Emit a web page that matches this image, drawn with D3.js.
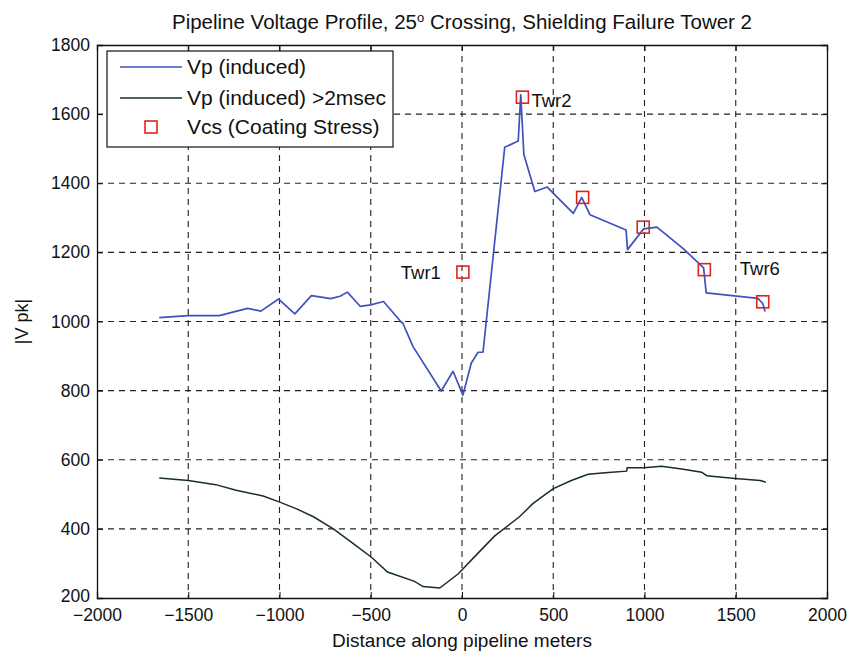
<!DOCTYPE html>
<html>
<head>
<meta charset="utf-8">
<script src="https://cdn.jsdelivr.net/npm/d3@7"></script>
<style>
  body { margin: 0; background: #fff; }
  text { font-family: "Liberation Sans", Arial, sans-serif; fill: #111; }
</style>
</head>
<body>
<svg id="chart" width="854" height="656"></svg>
<script>
// Peak induced pipeline voltage along the pipeline (distance in m, |V pk|)
const inducedX = [-1659, -1500, -1330, -1175, -1102, -1005, -916, -825, -719, -668, -628, -558, -500, -430,
                  -336, -324, -269, -114, -49, 5, 51, 88, 115, 234, 308, 322, 339, 399, 467, 610, 656, 701,
                  899, 907, 995, 1068, 1214, 1324, 1338, 1621, 1648, 1661];
const inducedV = [1011, 1017, 1017, 1038, 1030, 1065, 1022, 1075, 1066, 1073, 1085, 1044, 1048, 1058,
                  1000, 995, 928, 799, 856, 787, 880, 911, 911, 1504, 1522, 1656, 1483, 1376, 1389, 1313, 1359, 1309,
                  1265, 1208, 1268, 1273, 1210, 1155, 1083, 1067, 1052, 1029];

// Induced voltage lasting longer than 2 msec
const longX = [-1659, -1500, -1349, -1238, -1090, -1002, -906, -814, -703, -592, -496, -408, -260, -214, -122,
               -20, 68, 178, 315, 388, 498, 599, 691, 801, 902, 905, 998, 1094, 1204, 1313, 1341, 1497, 1634, 1665];
const longV = [547, 540, 528, 512, 495, 478, 458, 435, 399, 356, 318, 275, 248, 233, 229,
               270, 319, 379, 435, 473, 516, 540, 558, 563, 567, 577, 577, 581, 573, 564, 554, 546, 540, 535];

// Coating stress at each tower
const towerNames = ["Twr1", "Twr2", "Twr3", "Twr4", "Twr5", "Twr6"];
const towerX = [5, 331, 661, 993, 1328, 1648];
const coatingV = [1143, 1649, 1359, 1273, 1150, 1057];
const labeledTowers = ["Twr1", "Twr2", "Twr6"];

const xTicks = [-2000, -1500, -1000, -500, 0, 500, 1000, 1500, 2000];
const yTicks = [200, 400, 600, 800, 1000, 1200, 1400, 1600, 1800];

const seriesNames = ["Vp (induced)", "Vp (induced) >2msec", "Vcs (Coating Stress)"];

const BLUE = "#4050bd", DARK = "#17301c", RED = "#e0241c";

const svg = d3.select("#chart");
const margin = { left: 97, top: 45, right: 854 - 827, bottom: 656 - 598 };
const W = 854 - margin.left - margin.right;
const H = 656 - margin.top - margin.bottom;

const x = d3.scaleLinear().domain([-2000, 2000]).range([0, W]);
const y = d3.scaleLinear().domain([200, 1800]).range([H, 0]);

const g = svg.append("g").attr("transform", `translate(${margin.left},${margin.top})`);

// dashed grid
g.append("g").selectAll("line").data(xTicks.slice(1, -1)).join("line")
  .attr("x1", d => x(d)).attr("x2", d => x(d)).attr("y1", 0).attr("y2", H)
  .attr("stroke", "#222").attr("stroke-width", 1.1).attr("stroke-dasharray", "6,5");
g.append("g").selectAll("line").data(yTicks.slice(1, -1)).join("line")
  .attr("y1", d => y(d)).attr("y2", d => y(d)).attr("x1", 0).attr("x2", W)
  .attr("stroke", "#222").attr("stroke-width", 1.1).attr("stroke-dasharray", "6,5");

// axes with inward ticks on all four sides
const fs = "17.5px";
const xAxis = g.append("g").attr("transform", `translate(0,${H})`)
  .call(d3.axisBottom(x).tickValues(xTicks).tickSize(-6).tickPadding(10).tickFormat(d3.format("d")));
const xTop = g.append("g")
  .call(d3.axisTop(x).tickValues(xTicks).tickSize(-6).tickFormat(""));
const yAxis = g.append("g")
  .call(d3.axisLeft(y).tickValues(yTicks).tickSize(-6).tickPadding(7).tickFormat(d3.format("d")));
const yRight = g.append("g").attr("transform", `translate(${W},0)`)
  .call(d3.axisRight(y).tickValues(yTicks).tickSize(-6).tickFormat(""));
[xAxis, xTop, yAxis, yRight].forEach(a => {
  a.select(".domain").attr("stroke", "#111").attr("stroke-width", 1.3);
  a.selectAll(".tick line").attr("stroke", "#111");
  a.selectAll("text").style("font-size", fs).style("font-family", '"Liberation Sans", Arial, sans-serif').attr("fill", "#111");
});
xAxis.selectAll("text").attr("dy", "0.72em");
// the lowest y label sits just above the x labels
yAxis.selectAll(".tick text").filter(d => d === 200).attr("dy", "0.2em");

// series
const line = d3.line().x(d => x(d[0])).y(d => y(d[1]));
g.append("path").datum(d3.zip(longX, longV)).attr("d", line)
  .attr("fill", "none").attr("stroke", DARK).attr("stroke-width", 1.5);
g.append("path").datum(d3.zip(inducedX, inducedV)).attr("d", line)
  .attr("fill", "none").attr("stroke", BLUE).attr("stroke-width", 1.7).attr("stroke-linejoin", "round");

const towers = d3.zip(towerNames, towerX, coatingV);
const S = 12;
g.append("g").selectAll("rect").data(towers).join("rect")
  .attr("x", d => x(d[1]) - S / 2).attr("y", d => y(d[2]) - S / 2)
  .attr("width", S).attr("height", S)
  .attr("fill", "none").attr("stroke", RED).attr("stroke-width", 1.6);

// tower annotations
const labelOffset = { Twr1: [-22, 0, "end"], Twr2: [9, 3, "start"], Twr6: [-23, -33, "start"] };
g.append("g").selectAll("text").data(towers.filter(d => labeledTowers.includes(d[0]))).join("text")
  .attr("x", d => x(d[1]) + labelOffset[d[0]][0])
  .attr("y", d => y(d[2]) + labelOffset[d[0]][1])
  .attr("dy", "0.35em")
  .attr("text-anchor", d => labelOffset[d[0]][2])
  .style("font-size", "18.5px")
  .text(d => d[0]);

// legend
const lg = g.append("g").attr("transform", "translate(10,6)");
lg.append("rect").attr("width", 286).attr("height", 96)
  .attr("fill", "#fff").attr("stroke", "#111").attr("stroke-width", 1.2);
const rowY = [16, 47, 76];
lg.append("line").attr("x1", 13).attr("x2", 75).attr("y1", rowY[0]).attr("y2", rowY[0])
  .attr("stroke", BLUE).attr("stroke-width", 1.6);
lg.append("line").attr("x1", 13).attr("x2", 75).attr("y1", rowY[1]).attr("y2", rowY[1])
  .attr("stroke", DARK).attr("stroke-width", 1.4);
lg.append("rect").attr("x", 44 - S / 2).attr("y", rowY[2] - S / 2).attr("width", S).attr("height", S)
  .attr("fill", "none").attr("stroke", RED).attr("stroke-width", 1.6);
lg.selectAll("text.lab").data(seriesNames).join("text").attr("class", "lab")
  .attr("x", 80).attr("y", (d, i) => rowY[i]).attr("dy", "0.35em")
  .style("font-size", "21px").text(d => d);

// title and axis labels
const title = svg.append("text").attr("x", margin.left + W / 2).attr("y", 22).attr("dy", "0.35em")
  .attr("text-anchor", "middle").style("font-size", "20.5px");
title.append("tspan").text("Pipeline Voltage Profile, 25");
title.append("tspan").attr("baseline-shift", "super").style("font-size", "13px").text("o");
title.append("tspan").text(" Crossing, Shielding Failure Tower 2");

svg.append("text").attr("x", margin.left + W / 2).attr("y", 640).attr("dy", "0.35em")
  .attr("text-anchor", "middle").style("font-size", "19px").text("Distance along pipeline meters");
svg.append("text").attr("transform", `translate(22,${margin.top + H / 2}) rotate(-90)`)
  .attr("dy", "0.35em").attr("text-anchor", "middle").style("font-size", "18px").text("|V pk|");
</script>
</body>
</html>
